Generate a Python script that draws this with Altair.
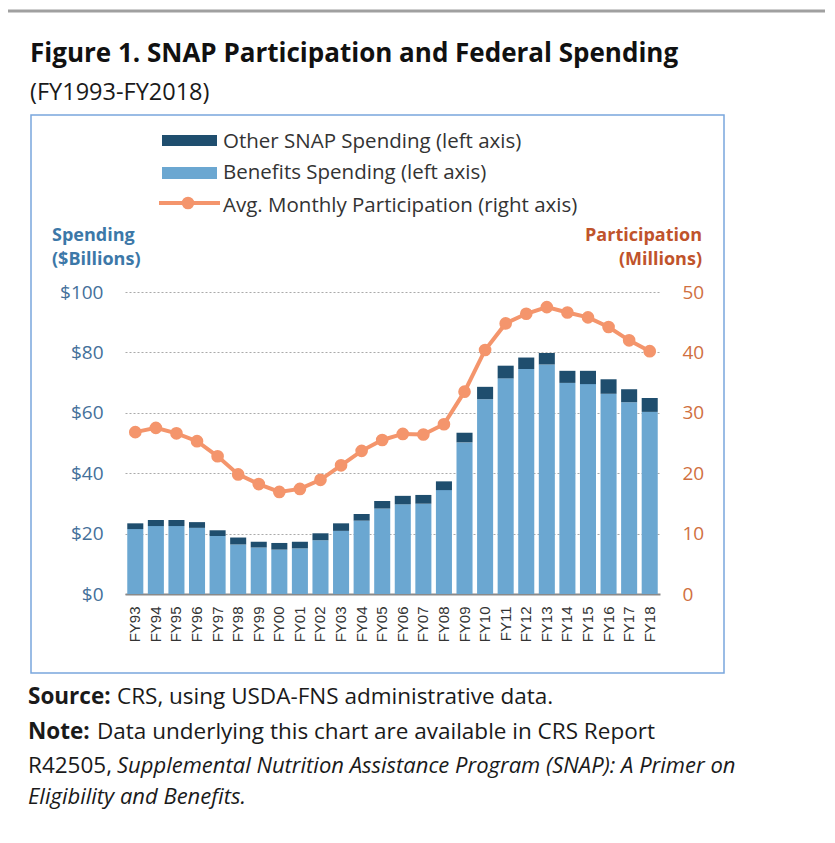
import altair as alt
import pandas as pd

# fiscal years on the x axis
fiscal_years = ["FY93", "FY94", "FY95", "FY96", "FY97", "FY98", "FY99", "FY00",
                "FY01", "FY02", "FY03", "FY04", "FY05", "FY06", "FY07", "FY08",
                "FY09", "FY10", "FY11", "FY12", "FY13", "FY14", "FY15", "FY16",
                "FY17", "FY18"]

# $ billions
benefits_spending = [21.5, 22.5, 22.5, 21.9, 19.2, 16.4, 15.4, 14.7, 15.1, 17.8,
                     20.9, 24.3, 28.3, 29.7, 29.9, 34.4, 50.2, 64.5, 71.4, 74.5,
                     76.0, 69.9, 69.5, 66.3, 63.5, 60.3]
total_spending = [23.4, 24.5, 24.5, 23.8, 21.1, 18.7, 17.3, 16.9, 17.3, 20.1,
                  23.4, 26.5, 30.8, 32.5, 32.8, 37.3, 53.4, 68.6, 75.6, 78.3,
                  79.8, 73.9, 73.9, 71.1, 67.8, 64.9]

# millions of people, avg. monthly
participation = [26.8, 27.5, 26.6, 25.3, 22.8, 19.8, 18.2, 16.9, 17.4, 18.9,
                 21.3, 23.7, 25.5, 26.5, 26.4, 28.1, 33.5, 40.4, 44.8, 46.4,
                 47.5, 46.6, 45.8, 44.2, 42.0, 40.2]

left_ticks = [0, 20, 40, 60, 80, 100]
right_ticks = [0, 10, 20, 30, 40, 50]

df = pd.DataFrame({
    "fy": fiscal_years,
    "benefits": benefits_spending,
    "total": total_spending,
    "participation": participation,
})

DARK = "#1F4E6E"
LIGHT = "#6BA7D1"
ORANGE = "#F4956C"
FONT = "Open Sans"

x_enc = alt.X("fy:N", sort=fiscal_years, title=None,
              scale=alt.Scale(paddingInner=0.22, paddingOuter=0.11),
              axis=alt.Axis(labelAngle=270, labelFont="Liberation Sans",
                            labelFontSize=15, labelColor="#333333",
                            labelPadding=12, ticks=False,
                            domainColor="#8a8a8a", domainWidth=2))

left_scale = alt.Scale(domain=[0, 100], nice=False)
right_scale = alt.Scale(domain=[0, 50], nice=False)

light = alt.Chart(df).mark_bar(color=LIGHT).encode(
    x=x_enc,
    y=alt.Y("benefits:Q", scale=left_scale, title=None,
            axis=alt.Axis(orient="left", values=left_ticks, format="$.0f",
                          labelFont=FONT, labelFontSize=19, labelColor="#44709A",
                          labelPadding=22, ticks=False, domain=False,
                          grid=True, gridDash=[2, 2], gridColor="#aaaaaa",
                          gridWidth=1.2)),
    y2=alt.value(302),
)

dark = alt.Chart(df).mark_bar(color=DARK).encode(
    x=x_enc,
    y=alt.Y("total:Q", scale=left_scale, axis=None),
    y2="benefits:Q",
)

line = alt.Chart(df).mark_line(
    color=ORANGE, strokeWidth=4,
    point=alt.OverlayMarkDef(filled=True, size=160, color=ORANGE, opacity=1),
).encode(
    x=x_enc,
    y=alt.Y("participation:Q", scale=right_scale, title=None,
            axis=alt.Axis(orient="right", values=right_ticks,
                          labelFont=FONT, labelFontSize=19, labelColor="#D0703F",
                          labelPadding=22, ticks=False, domain=False, grid=False)),
)

one = pd.DataFrame({"k": [0]})


def note(text, x, y, size=22.5, weight="normal", style="normal",
         color="#1a1a1a", align="left"):
    return alt.Chart(pd.DataFrame({"t": [text]})).mark_text(
        align=align, baseline="alphabetic", font=FONT, fontSize=size,
        fontWeight=weight, fontStyle=style, color=color,
    ).encode(x=alt.value(x), y=alt.value(y), text="t:N")


def box(x, x2, y, y2, color):
    return alt.Chart(one).mark_rect(color=color).encode(
        x=alt.value(x), x2=alt.value(x2), y=alt.value(y), y2=alt.value(y2))


frame = alt.Chart(one).mark_rect(fillOpacity=0, stroke="#7AA7DD",
                                 strokeWidth=1.5).encode(
    x=alt.value(-94), x2=alt.value(599), y=alt.value(-177), y2=alt.value(381))

top_rule = alt.Chart(one).mark_rule(color="#a0a0a0", strokeWidth=3).encode(
    x=alt.value(-117), x2=alt.value(702), y=alt.value(-281))

legend_line = alt.Chart(one).mark_rule(color=ORANGE, strokeWidth=4).encode(
    x=alt.value(34), x2=alt.value(95), y=alt.value(-89))
legend_dot = alt.Chart(one).mark_point(filled=True, size=160, color=ORANGE,
                                       opacity=1).encode(
    x=alt.value(63), y=alt.value(-89))

layers = [
    frame, top_rule,
    light, dark, line,
    note("Figure 1. SNAP Participation and Federal Spending", -95, -230,
         size=26, weight="bold", color="#111111"),
    note("(FY1993-FY2018)", -95, -192, size=23.5),
    box(37, 92, -157, -146, DARK),
    box(37, 92, -125, -113, LIGHT),
    legend_line, legend_dot,
    note("Other SNAP Spending (left axis)", 98, -144, size=20.5, color="#333333"),
    note("Benefits Spending (left axis)", 98, -113, size=20.5, color="#333333"),
    note("Avg. Monthly Participation (right axis)", 98, -80, size=20.5,
         color="#333333"),
    note("Spending", -73, -51, size=18, weight="bold", color="#3C78A8"),
    note("($Billions)", -73, -27, size=18, weight="bold", color="#3C78A8"),
    note("Participation", 577, -51, size=18, weight="bold", color="#C0532B",
         align="right"),
    note("(Millions)", 577, -27, size=18, weight="bold", color="#C0532B",
         align="right"),
    note("Source:", -97, 412, weight="bold"),
    note("CRS, using USDA-FNS administrative data.", -8, 412),
    note("Note:", -97, 447, weight="bold"),
    note("Data underlying this chart are available in CRS Report", -28, 447),
    note("R42505,", -97, 481),
    note("Supplemental Nutrition Assistance Program (SNAP): A Primer on",
         -8, 481, size=22, style="italic"),
    note("Eligibility and Benefits.", -97, 512, size=22, style="italic"),
]

chart = alt.layer(*layers).resolve_scale(y="independent").properties(
    width=535,
    height=302,
    padding={"left": 117, "top": 284, "right": 165, "bottom": 238},
    autosize=alt.AutoSizeParams(type="none"),
    background="white",
).configure_view(strokeWidth=0)

chart.save("out.html", embed_options={"renderer": "svg", "actions": False})
